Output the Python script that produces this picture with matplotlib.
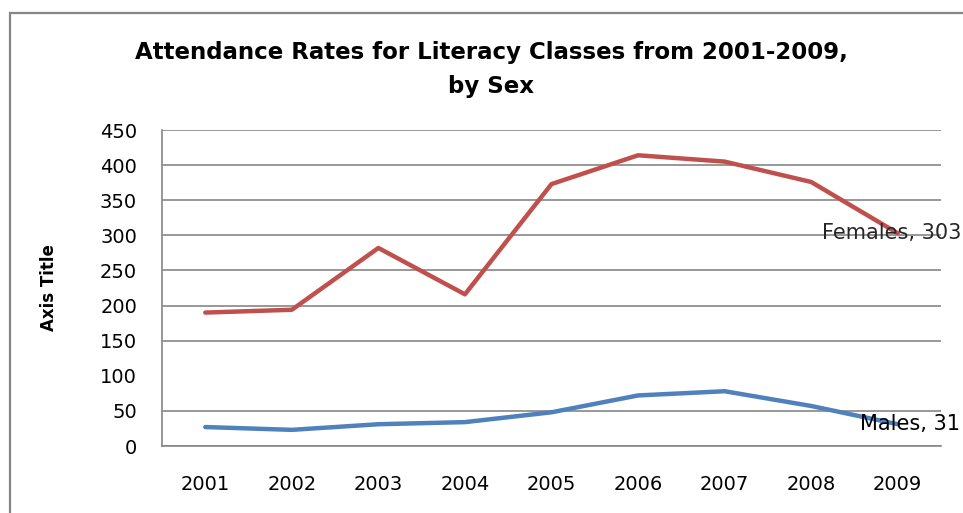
import matplotlib
matplotlib.use("Agg")
import matplotlib.pyplot as plt
from matplotlib.patches import Rectangle

years = ["2001", "2002", "2003", "2004", "2005", "2006", "2007", "2008", "2009"]
females = [190, 194, 282, 216, 373, 414, 405, 376, 303]
males = [27, 23, 31, 34, 48, 72, 78, 57, 31]
yticks = [0, 50, 100, 150, 200, 250, 300, 350, 400, 450]

fig = plt.figure(figsize=(9.63, 5.13), dpi=100)
ax = fig.add_axes([162/963, 1-446/513, (941-162)/963, (446-130)/513])

x = list(range(len(years)))
ax.plot(x, females, color="#C0504D", lw=3.2, solid_capstyle="round", solid_joinstyle="round", zorder=3)
ax.plot(x, males, color="#4F81BD", lw=3.2, solid_capstyle="round", solid_joinstyle="round", zorder=3)

ax.set_xlim(-0.5, len(years)-0.5)
ax.set_ylim(0, 450)
ax.set_yticks(yticks)
ax.set_yticklabels([str(v) for v in yticks])
ax.set_xticks(x)
ax.set_xticklabels(years)

grid_c = "#868686"
ax.yaxis.grid(True, color=grid_c, lw=1.2)
ax.set_axisbelow(True)
# the 100 gridline is not drawn in the reference
for i, gl in enumerate(ax.yaxis.get_gridlines()):
    if yticks[i] == 100:
        gl.set_visible(False)

for s in ["top", "right"]:
    ax.spines[s].set_visible(False)
for s in ["left", "bottom"]:
    ax.spines[s].set_color(grid_c)
    ax.spines[s].set_linewidth(1.2)

ax.tick_params(axis="y", length=0, pad=18, labelsize=14, labelcolor="black")
ax.tick_params(axis="x", length=0, pad=21, labelsize=14, labelcolor="black")

ax.set_ylabel("Axis Title", fontsize=12, fontweight="bold")
ax.yaxis.set_label_coords((58-162)/(941-162), 0.5)

# data labels at last points
ax.annotate("Females, " + str(females[-1]), xy=(x[-1], females[-1]), xytext=(-76, 0),
            textcoords="offset pixels", ha="left", va="center",
            fontsize=15, color="#262626", annotation_clip=False, zorder=4)
ax.annotate("Males, " + str(males[-1]), xy=(x[-1], males[-1]), xytext=(-38, 0),
            textcoords="offset pixels", ha="left", va="center",
            fontsize=15, color="black", annotation_clip=False, zorder=4)

fig.text(491/963, 1-53/513, "Attendance Rates for Literacy Classes from 2001-2009,",
         ha="center", va="center", fontsize=16.5, fontweight="bold")
fig.text(491/963, 1-87/513, "by Sex", ha="center", va="center", fontsize=16.5, fontweight="bold")

# chart area border (cut off at right/bottom)
fig.patches.append(Rectangle((10/963, -0.05), 1.0, 1-13/513+0.05, transform=fig.transFigure,
                             fill=False, edgecolor="#868686", lw=1.6))

fig.savefig("out.png", dpi=100)
